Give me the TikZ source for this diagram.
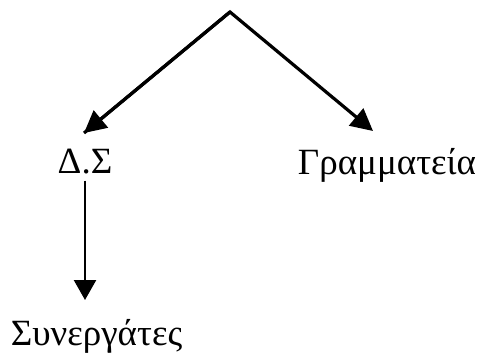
\documentclass[tikz,border=0pt]{standalone}
\usepackage{fontspec}
\setmainfont{Liberation Serif}
\usetikzlibrary{arrows.meta}
\begin{document}
\begin{tikzpicture}[x=1pt,y=1pt,
  lbl/.style={inner sep=0pt, anchor=base, font=\fontsize{37}{40}\selectfont},
  diag/.style={line width=3.2pt, -{Triangle[length=22pt,width=22pt]}},
  vert/.style={line width=2.4pt, -{Triangle[length=20pt,width=22pt]}}]
\path[use as bounding box, fill=white] (0,0) rectangle (481,-353);
\coordinate (top) at (230,-12);
\node[lbl] (ds) at (85,-173) {Δ.Σ};
\node[lbl] (gram) at (387,-174) {Γραμματεία};
\node[lbl] (syn) at (96.5,-345) {Συνεργάτες};
\coordinate (dstip) at (84,-133);
\coordinate (gramtip) at (373,-131);
\coordinate (syntip) at (85,-300);
\draw[diag, line join=miter] (dstip) -- (top) -- (gramtip);
\draw[diag] (top) -- (dstip);
\draw[vert] ([yshift=-7pt]ds.south) -- (syntip);
\end{tikzpicture}
\end{document}
